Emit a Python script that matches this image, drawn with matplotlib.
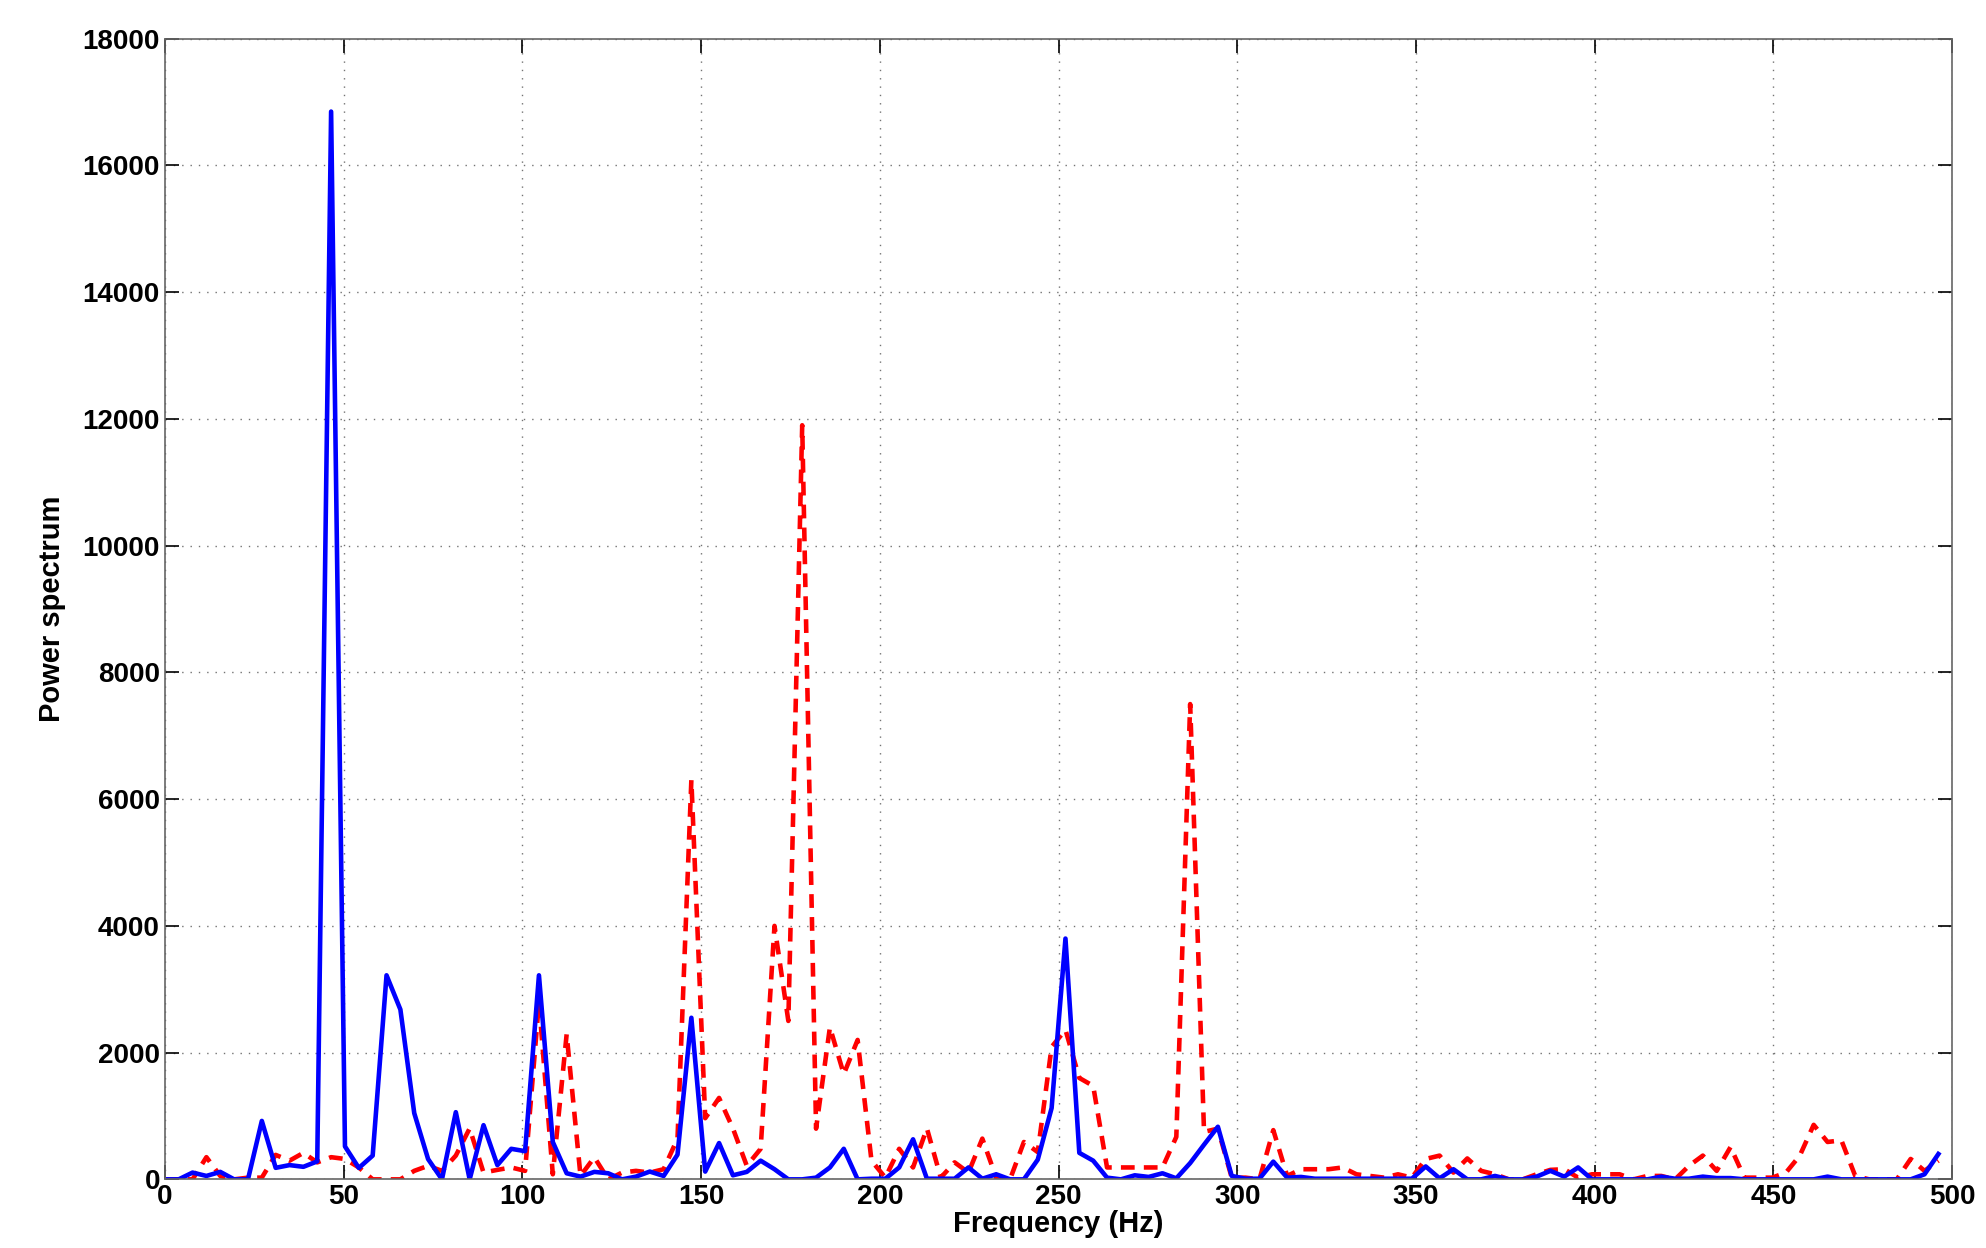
import numpy as np
import matplotlib
matplotlib.use("Agg")
import matplotlib.pyplot as plt

# power spectrum, solid blue trace (first bin at 0 Hz)
blue = [0, 0, 107, 54, 118, 0, 0, 922, 182, 225, 198, 284, 16850, 520, 180, 375, 3220,
        2680, 1045, 320, 0, 1060, 0, 855, 225, 482, 445, 3220, 590, 96, 43,
        118, 96, 0, 43, 123, 54, 390, 2550, 123, 573, 64, 118, 295, 160, 0,
        0, 27, 188, 482, 0, 10, 10, 188, 632, 10, 10, 10, 188, 10, 80,
        0, 0, 311, 1125, 3800, 418, 295, 27, 0, 64, 38, 96, 16, 257, 547,
        830, 54, 10, 10, 280, 27, 38, 10, 10, 10, 10, 10, 10, 10, 10,
        204, 16, 160, 0, 0, 54, 0, 0, 43, 134, 43, 188, 0, 0, 0,
        0, 0, 43, 10, 10, 43, 20, 20, 0, 0, 0, 0, 0, 0, 43,
        0, 0, 0, 0, 0, 0, 80, 400]

# power spectrum, dashed red trace
red = [0, 0, 0, 350, 54, 0, 27, 27, 386, 295, 418, 268, 350, 322, 188, 0, 0, 0,
       134, 214, 134, 375, 804, 107, 150, 188, 134, 2800, 80, 2290, 54, 348,
       0, 107, 134, 107, 160, 643, 6300, 965, 1285, 804, 214, 482, 4000, 2500, 11900,
       800, 2400, 1660, 2200, 295, 27, 482, 188, 804, 27, 268, 107, 643, 27, 0,
       590, 430, 2090, 2360, 1600, 1475, 188, 188, 188, 188, 188, 670, 7500, 750, 800,
       27, 27, 0, 777, 54, 160, 160, 160, 188, 80, 54, 27, 80, 27, 322,
       375, 107, 330, 134, 80, 0, 0, 80, 150, 160, 27, 80, 80, 80, 0,
       54, 54, 0, 214, 375, 134, 510, 27, 27, 27, 107, 375, 860, 590, 616,
       54, 0, 0, 0, 322, 134, 295]

# frequency bins (Hz)
freq = np.arange(len(blue)) * 500 / 129

plt.rcParams['font.family'] = ['Liberation Sans', 'DejaVu Sans']
plt.rcParams['font.weight'] = 'bold'

fig = plt.figure(figsize=(19.86, 12.48), dpi=100)
ax = fig.add_axes([0.083, 0.055, 0.9, 0.914])

ax.plot(freq, red, color='red', lw=3.3, ls=(0, (3, 2)))
ax.plot(freq, blue, color='blue', lw=3.3)

ax.set_xlim(0, 500)
ax.set_ylim(0, 18000)
ax.set_xticks(np.arange(0, 501, 50))
ax.set_yticks(np.arange(0, 18001, 2000))
ax.grid(True, ls=(0, (1, 5)), color='0.45', lw=1)
ax.tick_params(direction='in', length=10, top=True, right=True, labelsize=20, width=1.2)
for lab in ax.get_xticklabels() + ax.get_yticklabels():
    lab.set_fontweight('bold')
for s in ax.spines.values():
    s.set_color('0.4')
    s.set_linewidth(1.2)

ax.set_xlabel('Frequency (Hz)', fontsize=21, fontweight='bold', labelpad=0)
ax.set_ylabel('Power spectrum', fontsize=21, fontweight='bold', labelpad=12)

fig.savefig('out.png', dpi=100)
